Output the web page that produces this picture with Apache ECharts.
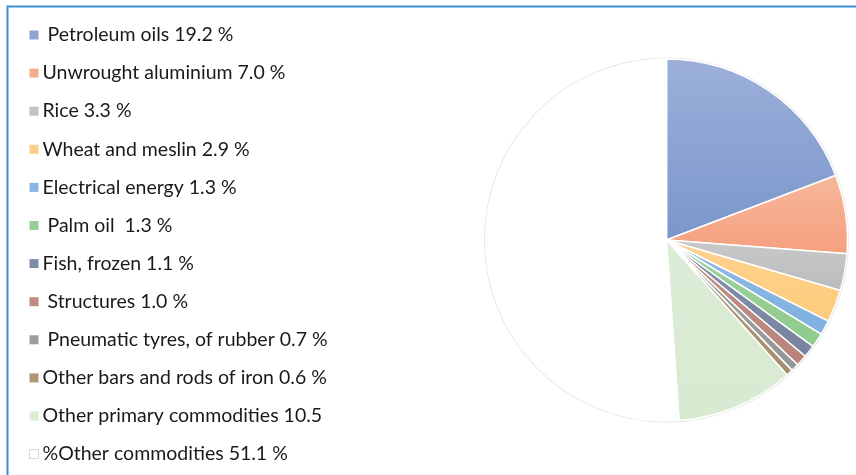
<!DOCTYPE html>
<html>
<head>
<meta charset="utf-8">
<script src="https://cdn.jsdelivr.net/npm/echarts@6/dist/echarts.min.js"></script>
<style>
html,body{margin:0;padding:0;background:#fff;}
#c{width:856px;height:475px;}
</style>
</head>
<body>
<div id="c"></div>
<script>
const categories = [
  " Petroleum oils 19.2 %",
  "Unwrought aluminium 7.0 %",
  "Rice 3.3 %",
  "Wheat and meslin 2.9 %",
  "Electrical energy 1.3 %",
  " Palm oil  1.3 %",
  "Fish, frozen 1.1 %",
  " Structures 1.0 %",
  " Pneumatic tyres, of rubber 0.7 %",
  "Other bars and rods of iron 0.6 %",
  "Other primary commodities 10.5",
  "%Other commodities 51.1 %"
];
const values = [19.2, 7.0, 3.3, 2.9, 1.3, 1.3, 1.1, 1.0, 0.7, 0.6, 10.5, 51.1];
const topColors =    ["#9cb0da", "#f6b79a", "#c8c9ca", "#fed291", "#8fbbe4", "#9dd29a", "#8592ad", "#c39287", "#a3a5a6", "#b8a184", "#dcecd6", "#ffffff"];
const bottomColors = ["#7a96cb", "#f5a07e", "#b9bbbc", "#fdcb7a", "#7fb0e0", "#8ecb8b", "#77839f", "#b7847a", "#939596", "#a58d6e", "#d8ead1", "#ffffff"];
const legendColors = ["#8ea4d4", "#f5ab8d", "#c0c1c2", "#fdcf86", "#88b6e2", "#96cf93", "#7f8ba6", "#bd8b80", "#9b9d9e", "#b09877", "#dbecd5", "#ffffff"];

const chart = echarts.init(document.getElementById('c'), null, {renderer: 'canvas'});

const data = categories.map((n, i) => ({
  name: n,
  value: values[i],
  itemStyle: {
    color: new echarts.graphic.LinearGradient(0, 0, 0, 1, [
      {offset: 0, color: topColors[i]},
      {offset: 1, color: bottomColors[i]}
    ])
  }
}));

chart.setOption({
  animation: false,
  backgroundColor: '#ffffff',
  graphic: [{
    type: 'rect',
    shape: {x: 7.5, y: 6.5, width: 900, height: 500},
    style: {fill: 'none', stroke: '#3b8ed6', lineWidth: 2},
    z: 100
  }],
  legend: {
    orient: 'vertical',
    left: 24,
    top: 20,
    height: 460,
    itemWidth: 9,
    itemHeight: 9,
    itemGap: 18.1,
    icon: 'rect',
    selectedMode: false,
    data: categories.map((n, i) => ({
      name: n,
      itemStyle: i === categories.length - 1
        ? {color: '#ffffff', borderColor: '#d9d9d9', borderWidth: 1}
        : {color: legendColors[i], borderWidth: 0}
    })),
    textStyle: {
      fontFamily: 'Lato, "Open Sans", sans-serif',
      fontSize: 19.5,
      color: '#1a1a1a',
      padding: [0, 0, 0, -1]
    }
  },
  series: [
    {
      type: 'pie',
      silent: true,
      center: [666.5, 240],
      radius: [0, 182.5],
      startAngle: 90,
      clockwise: true,
      data: [{value: 1, name: '_bg', itemStyle: {color: '#e3e3e3'}}],
      label: {show: false},
      labelLine: {show: false},
      z: 1
    },
    {
      type: 'pie',
      center: [666.5, 240],
      radius: [0, 181],
      startAngle: 90,
      clockwise: true,
      data: data,
      label: {show: false},
      labelLine: {show: false},
      itemStyle: {borderColor: '#ffffff', borderWidth: 1.5},
      z: 2
    }
  ]
});
</script>
</body>
</html>
